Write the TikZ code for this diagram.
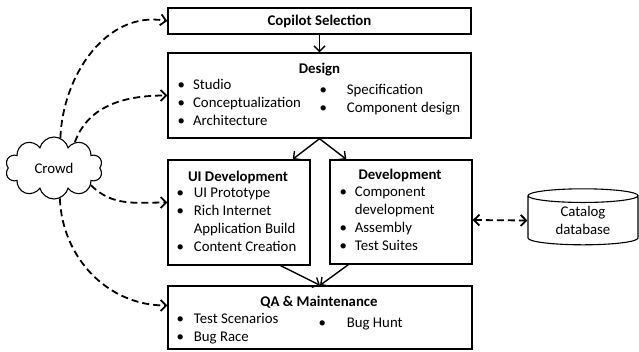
\documentclass[tikz,border=0pt]{standalone}
\usepackage{fontspec}
\setmainfont{Carlito}
\usetikzlibrary{arrows.meta}
\usetikzlibrary{shapes}
\usetikzlibrary{positioning}

\tikzset{
    >={Straight Barb[length=5.5pt,width=11pt]},
    box/.style={rectangle,draw,line width=1.4pt,inner sep=0pt},
    title/.style={anchor=base,inner sep=0pt,font=\fontsize{14.8}{18}\selectfont\bfseries},
    items/.style={anchor=base west,inner sep=0pt},
    flow/.style={draw=black,line width=1.4pt,->},
    crowdflow/.style={draw=black,line width=1.8pt,dash pattern=on 7pt off 4pt,->}
}

\begin{document}
\begin{tikzpicture}[x=1pt,y=1pt,font=\fontsize{14.8}{18}\selectfont]
    \useasboundingbox (0,0) rectangle (639,351);
    \begin{scope}[every node/.style={box}]
    \node[minimum width=303pt,minimum height=26pt,font=\fontsize{14.8}{18}\selectfont\bfseries] (copilot) at (319.5,330) {Copilot Selection};
    \node[minimum width=303pt,minimum height=85pt] (design) at (319.5,255.5) {};
    \node[minimum width=142pt,minimum height=105pt] (uidev) at (239,138.5) {};
    \node[minimum width=142pt,minimum height=104pt] (dev) at (401,139) {};
    \node[minimum width=304pt,minimum height=63pt] (qa) at (320,33.5) {};
    \end{scope}
    % titles and lists
    \node[title] (designT) at (319.5,277.5) {Design};
    \node[items] (designL) at (177.5,261.5) {\begin{tabular}[t]{@{}l@{\hspace{8pt}}l@{}}
        \textbullet & Studio\\ \textbullet & Conceptualization\\ \textbullet & Architecture\end{tabular}};
    \node[items] (designR) at (319.3,256.5) {\begin{tabular}[t]{@{}l@{\hspace{20pt}}l@{}}
        \textbullet & Specification\\ \textbullet & Component design\end{tabular}};
    \node[title] (uiT) at (238,169.5) {UI Development};
    \node[items] (uiL) at (176.3,153.5) {\begin{tabular}[t]{@{}l@{\hspace{10pt}}l@{}}
        \textbullet & UI Prototype\\ \textbullet & Rich Internet\\ & Application Build\\ \textbullet & Content Creation\end{tabular}};
    \node[title] (devT) at (400,171.5) {Development};
    \node[items] (devL) at (339.3,154.5) {\begin{tabular}[t]{@{}l@{\hspace{8pt}}l@{}}
        \textbullet & Component\\ & development\\ \textbullet & Assembly\\ \textbullet & Test Suites\end{tabular}};
    \node[title] (qaT) at (319,44.5) {QA \& Maintenance};
    \node[items] (qaL) at (176.3,27.5) {\begin{tabular}[t]{@{}l@{\hspace{10pt}}l@{}}
        \textbullet & Test Scenarios\\ \textbullet & Bug Race\end{tabular}};
    \node[items] (qaR) at (318.3,23.5) {\begin{tabular}[t]{@{}l@{\hspace{21pt}}l@{}}
        \textbullet & Bug Hunt\end{tabular}};
    % crowd and catalog
    \node[cloud,draw,cloud puffs=10,aspect=1.6,line width=1.1pt,minimum width=97pt,minimum height=62pt,inner sep=0pt] (crowd) at (54,183) {Crowd};
    \node[cylinder,draw,shape border rotate=90,aspect=0.25,line width=1.1pt,minimum width=110pt,minimum height=56pt,align=center,inner sep=0pt] (catalog) at (583,130.5) {Catalog\\database};
    % flow
    \path (copilot) edge[flow] (design);
    \path (design.south) edge[flow] ([xshift=-18pt]uidev.north east);
    \path (design.south) edge[flow] ([xshift=17pt]dev.north west);
    \path ([xshift=-30pt]uidev.south east) edge[flow] (qa.north);
    \path ([xshift=19pt]dev.south west) edge[flow] (qa.north);
    \path (crowd.78) edge[crowdflow,out=88,in=170] (copilot.west);
    \path (crowd.51) edge[crowdflow,out=70,in=180] (design.west);
    \path (crowd.-25) edge[crowdflow,out=-45,in=180] ([yshift=10pt]uidev.west);
    \path (crowd.-79) edge[crowdflow,out=-88,in=180] ([yshift=12pt]qa.west);
    \path ([yshift=-8pt]dev.east) edge[crowdflow,<->] (catalog.west);
\end{tikzpicture}
\end{document}
